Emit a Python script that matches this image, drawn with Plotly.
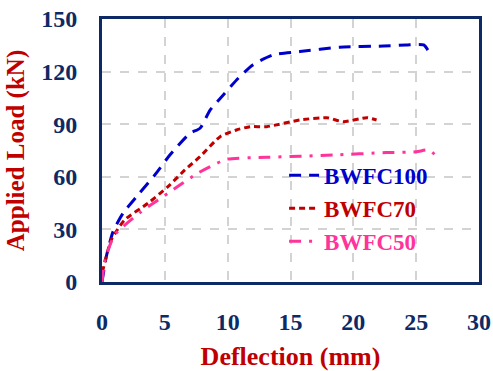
import plotly.graph_objects as go

# Deflection (mm) and applied load (kN)
d100 = [0, 0.34, 0.88, 1.67, 2.86, 4.2, 5.4, 7.0, 7.8, 8.6, 9.65, 10.84, 12.0, 13.6, 15.75, 18.9, 22.4, 24.2, 25.6, 26.0]
p100 = [0, 14.4, 28.7, 39.2, 49.6, 61, 72.4, 84.8, 87.7, 98, 106.7, 116.2, 123.8, 129.5, 131.4, 133.9, 134.6, 135.2, 135.2, 131.4]

d70 = [0, 0.08, 0.74, 1.8, 3.66, 5.25, 6.6, 7.8, 9.4, 10.7, 11.8, 13.1, 15.75, 17.9, 19.2, 21.06, 21.85]
p70 = [0, 6.8, 24, 35.4, 44.9, 54.4, 63.9, 71.5, 82.9, 86.7, 88.6, 88.6, 92.4, 93.7, 91.4, 93.7, 92.4]

d50 = [0, 0.24, 1.0, 3.1, 5.25, 7.6, 8.86, 9.9, 13.1, 18.4, 22.6, 25.0, 26.0, 26.6]
p50 = [0, 12.5, 26.8, 40, 50.6, 62, 66.7, 70, 71.1, 72.4, 73.8, 74.3, 75.3, 71.9]

names = ["BWFC100", "BWFC70", "BWFC50"]
colors = ["#0000cc", "#c00000", "#ff3399"]
dash_styles = ["12px,8px", "6px,4px", "12px,8px,3px,8px"]

x_ticks = [0, 5, 10, 15, 20, 25, 30]
y_ticks = [0, 30, 60, 90, 120, 150]

navy = "#0d2a66"
title_red = "#c00000"
font_family = "Liberation Serif, Times New Roman, serif"

fig = go.Figure()
for xs, ys, n, c, ds in zip([d100, d70, d50], [p100, p70, p50], names, colors, dash_styles):
    fig.add_trace(go.Scatter(
        x=xs, y=ys, mode="lines",
        name=f"<span style='color:{c}'><b>{n}</b></span>",
        line=dict(color=c, width=3, dash=ds, shape="spline", smoothing=0.6),
    ))

axis_common = dict(
    showline=True, linecolor=navy, linewidth=3, mirror=True,
    showgrid=True, gridcolor="#d3d3d3", gridwidth=2, griddash="dash",
    zeroline=False, ticks="", automargin=False, ticklabeloverflow="allow",
    tickfont=dict(family=font_family, size=24, color=navy, weight="bold"),
)

fig.update_layout(
    width=493, height=371,
    margin=dict(l=102, r=14, t=19, b=89),
    paper_bgcolor="white", plot_bgcolor="white",
    font=dict(family=font_family),
    xaxis=dict(range=[0, 30], tickvals=x_ticks, ticktext=[str(v) for v in x_ticks],
               ticklabelstandoff=16,
               title=dict(text="Deflection (mm)", standoff=17,
                          font=dict(family=font_family, size=26, color=title_red, weight="bold")),
               **axis_common),
    yaxis=dict(range=[0, 150], tickvals=y_ticks, ticktext=[str(v) for v in y_ticks],
               ticklabelstandoff=17,
               title=dict(text="Applied Load (kN)", standoff=10,
                          font=dict(family=font_family, size=25, color=title_red, weight="bold")),
               **axis_common),
    legend=dict(x=0.483, y=0.487, xanchor="left", yanchor="top",
                bgcolor="rgba(0,0,0,0)", font=dict(family=font_family, size=23),
                tracegroupgap=0),
    showlegend=True,
)

fig.write_html(
    "out.html",
    config={"displayModeBar": False},
    post_script="document.body.style.margin='0';document.body.style.overflow='hidden';",
)
